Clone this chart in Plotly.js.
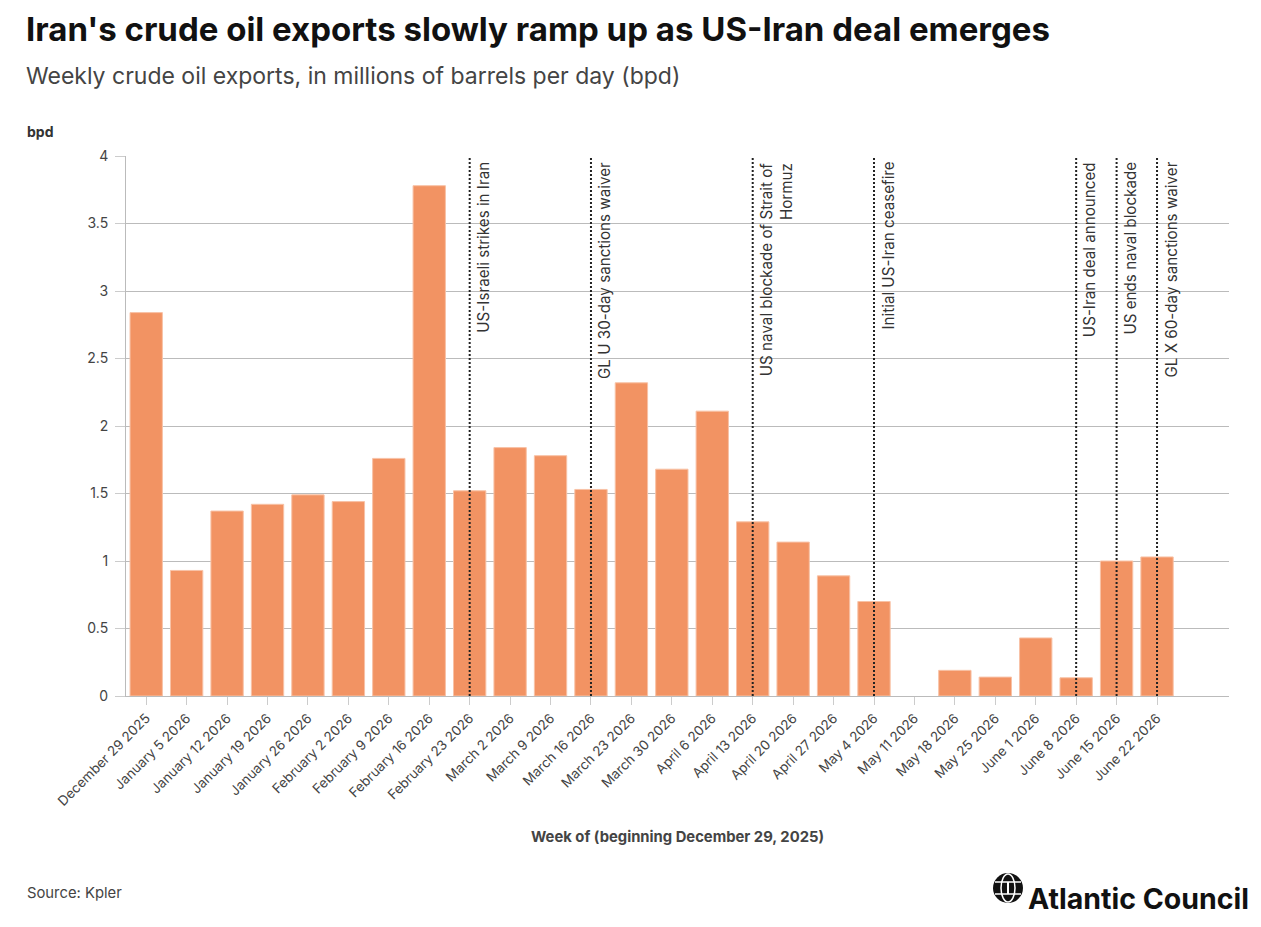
<!DOCTYPE html>
<html>
<head>
<meta charset="utf-8">
<script src="https://cdn.plot.ly/plotly-3.0.1.min.js"></script>
<style>
  html, body { margin: 0; padding: 0; background: #fff; }
  #chart { width: 1261px; height: 927px; }
</style>
</head>
<body>
<div id="chart"></div>
<script>
// Week-start dates (x categories)
const weeks = [
  "December 29 2025", "January 5 2026", "January 12 2026", "January 19 2026",
  "January 26 2026", "February 2 2026", "February 9 2026", "February 16 2026",
  "February 23 2026", "March 2 2026", "March 9 2026", "March 16 2026",
  "March 23 2026", "March 30 2026", "April 6 2026", "April 13 2026",
  "April 20 2026", "April 27 2026", "May 4 2026", "May 11 2026",
  "May 18 2026", "May 25 2026", "June 1 2026", "June 8 2026",
  "June 15 2026", "June 22 2026"
];

// Weekly crude exports, million bpd
const exportsBpd = [
  2.84, 0.93, 1.37, 1.42, 1.49, 1.44, 1.76, 3.78,
  1.52, 1.84, 1.78, 1.53, 2.32, 1.68, 2.11, 1.29,
  1.14, 0.89, 0.70, null, 0.19, 0.14, 0.43, 0.135,
  1.00, 1.03
];

// Event markers
const eventWeeks = [
  "February 23 2026", "March 16 2026", "April 13 2026", "May 4 2026",
  "June 8 2026", "June 15 2026", "June 22 2026"
];
const eventLabels = [
  "US-Israeli strikes in Iran",
  "GL U 30-day sanctions waiver",
  "US naval blockade of Strait of<br>Hormuz",
  "Initial US-Iran ceasefire",
  "US-Iran deal announced",
  "US ends naval blockade",
  "GL X 60-day sanctions waiver"
];

const yTicks = [0, 0.5, 1, 1.5, 2, 2.5, 3, 3.5, 4];

const FONT = "Inter, 'Open Sans', sans-serif";

// plot-area geometry (pixels) used to place free text in paper units
const W = 1261, H = 927;
const M = { l: 126, r: 32, t: 156, b: 231 };
const PW = W - M.l - M.r, PH = H - M.t - M.b;
const px = x => (x - M.l) / PW;
const py = y => (H - M.b - y) / PH;

const trace = {
  type: "bar",
  x: weeks,
  y: exportsBpd,
  marker: { color: "#F29363", line: { color: "#F8C2A6", width: 1 } },
  hoverinfo: "x+y"
};

const shapes = eventWeeks.map(w => ({
  type: "line", xref: "x", yref: "paper",
  x0: w, x1: w, y0: 0, y1: 1,
  line: { color: "#222", width: 2, dash: "2px,2px" },
  layer: "above"
}));

// globe mark beside the wordmark
const gx = 1008, gy = 888, gr = 15;
shapes.push(
  { type: "circle", xref: "paper", yref: "paper",
    x0: px(gx - gr), x1: px(gx + gr), y0: py(gy + gr), y1: py(gy - gr),
    fillcolor: "#111", line: { width: 0 } },
  { type: "circle", xref: "paper", yref: "paper",
    x0: px(gx - 7), x1: px(gx + 7), y0: py(gy + gr - 1), y1: py(gy - gr + 1),
    line: { color: "#fff", width: 1.5 } },
  { type: "line", xref: "paper", yref: "paper",
    x0: px(gx - gr + 2), x1: px(gx + gr - 2), y0: py(gy - 6), y1: py(gy - 6),
    line: { color: "#fff", width: 1.5 } },
  { type: "line", xref: "paper", yref: "paper",
    x0: px(gx - gr + 2), x1: px(gx + gr - 2), y0: py(gy + 6), y1: py(gy + 6),
    line: { color: "#fff", width: 1.5 } },
  { type: "line", xref: "paper", yref: "paper",
    x0: px(gx), x1: px(gx), y0: py(gy - 6), y1: py(gy + 6),
    line: { color: "#fff", width: 2 } }
);

const annotations = eventWeeks.map((w, i) => ({
  xref: "x", yref: "paper", x: w, y: 1,
  xanchor: "left", yanchor: "top", xshift: 2, yshift: -4,
  textangle: -90, align: "right", showarrow: false,
  text: eventLabels[i],
  font: { family: FONT, size: 15.2, color: "#333" }
}));

const freeText = [
  { text: "<b>Iran's crude oil exports slowly ramp up as US-Iran deal emerges</b>",
    x: 24, y: 29, size: 33, color: "#111", anchor: "left" },
  { text: "Weekly crude oil exports, in millions of barrels per day (bpd)",
    x: 24, y: 76, size: 23, color: "#444", anchor: "left" },
  { text: "<b>bpd</b>", x: 25, y: 131, size: 14, color: "#333", anchor: "left" },
  { text: "<b>Week of (beginning December 29, 2025)</b>",
    x: 677, y: 837, size: 14.8, color: "#444", anchor: "center" },
  { text: "Source: Kpler", x: 25, y: 893, size: 14.8, color: "#444", anchor: "left" },
  { text: "<b>Atlantic Council</b>", x: 1026, y: 898, size: 28.5, color: "#111", anchor: "left" }
];
freeText.forEach(t => annotations.push({
  xref: "paper", yref: "paper", x: px(t.x), y: py(t.y),
  xanchor: t.anchor, yanchor: "middle", showarrow: false,
  text: t.text, font: { family: FONT, size: t.size, color: t.color }
}));

const layout = {
  width: W, height: H,
  margin: M,
  paper_bgcolor: "#fff", plot_bgcolor: "#fff",
  font: { family: FONT, color: "#444" },
  showlegend: false,
  bargap: 0.2,
  xaxis: {
    type: "category",
    range: [-0.5, 26.78],
    tickangle: -45,
    ticks: "outside", ticklen: 8, tickcolor: "#ccc", tickwidth: 1,
    showline: true, linecolor: "#bbb", linewidth: 1,
    showgrid: false, zeroline: false,
    tickfont: { family: FONT, size: 13.5, color: "#444" }
  },
  yaxis: {
    range: [0, 4],
    tickvals: yTicks,
    ticks: "outside", ticklen: 10, tickcolor: "#ccc",
    showline: true, linecolor: "#bbb", linewidth: 1,
    gridcolor: "#bbb", gridwidth: 1, zeroline: false,
    ticklabelstandoff: 4,
    tickfont: { family: FONT, size: 14, color: "#444" }
  },
  shapes: shapes,
  annotations: annotations
};

Plotly.newPlot("chart", [trace], layout, { displayModeBar: false, staticPlot: true });
</script>
</body>
</html>
